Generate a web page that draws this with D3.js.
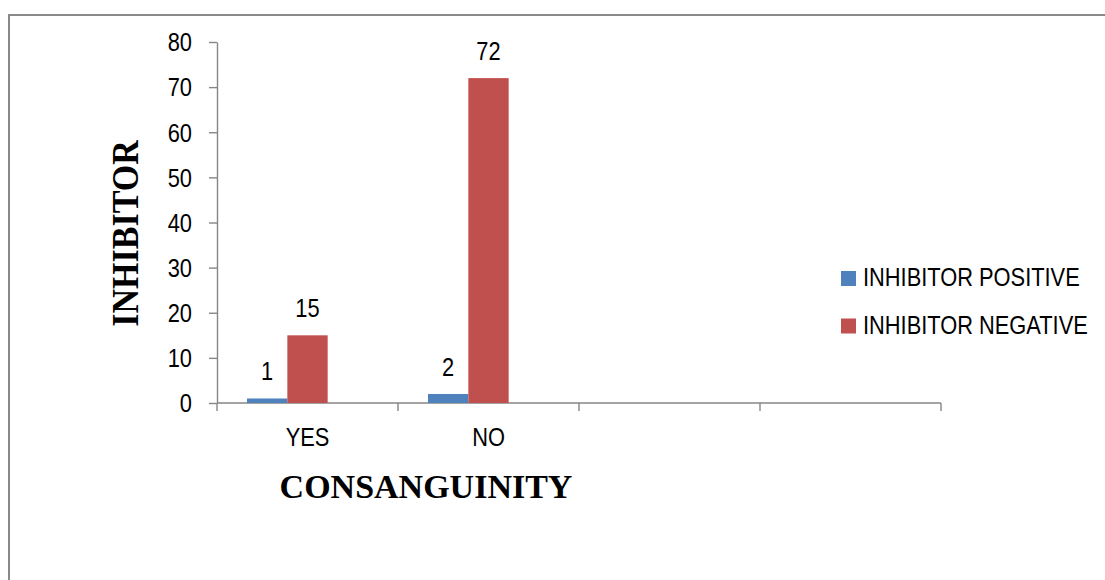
<!DOCTYPE html>
<html>
<head>
<meta charset="utf-8">
<script src="https://cdn.jsdelivr.net/npm/d3@7"></script>
<style>
  html, body { margin: 0; padding: 0; background: #fff; }
  svg { display: block; }
  .lbl { font-family: "Liberation Sans Narrow", "Arial Narrow", "Liberation Sans", Arial, sans-serif; font-size: 26px; fill: #000; }
  .title { font-family: "Liberation Serif", "Times New Roman", serif; font-weight: bold; font-size: 34px; fill: #000; }
</style>
</head>
<body>
<svg id="chart" width="1105" height="580"></svg>
<script>
// Category axis: four slots, only the first two carry data
const categories = ["YES", "NO", "", ""];
const seriesNames = ["INHIBITOR POSITIVE", "INHIBITOR NEGATIVE"];
const positiveValues = [1, 2];
const negativeValues = [15, 72];
const yTicks = [0, 10, 20, 30, 40, 50, 60, 70, 80];
const colors = ["#4F81BD", "#C0504D"];

const svg = d3.select("#chart");
const axisColor = "#868686";
const squeeze = 0.84; // horizontal condensing for the narrow label face

// Condensed label text anchored at (x, y)
function label(parent, x, y, txt, anchor) {
  return parent.append("text")
    .attr("class", "lbl")
    .attr("transform", `translate(${x},${y}) scale(${squeeze},1)`)
    .attr("text-anchor", anchor || "start")
    .text(txt);
}

// Outer chart frame
svg.append("rect")
  .attr("x", 9).attr("y", 15)
  .attr("width", 1200).attr("height", 700)
  .attr("fill", "none")
  .attr("stroke", "#898989")
  .attr("stroke-width", 2);

const y = d3.scaleLinear().domain([0, 80]).range([403, 42]);
const x = d3.scaleBand().domain(d3.range(categories.length)).range([217, 941]);
// Three bar slots per category (third slot stays empty)
const xSub = d3.scaleBand().domain(d3.range(3)).range([0, x.bandwidth()])
  .paddingInner(0).paddingOuter(0.744);

// Y axis
const yAxis = svg.append("g")
  .attr("transform", "translate(217,0)")
  .call(d3.axisLeft(y).tickValues(yTicks).tickSize(8).tickSizeOuter(0).tickFormat(""));
yAxis.select(".domain").attr("stroke", axisColor).attr("stroke-width", 1.4);
yAxis.selectAll(".tick line").attr("stroke", axisColor).attr("stroke-width", 1.4);
const yLabels = svg.append("g");
yTicks.forEach(t => label(yLabels, 192, y(t) + 9.3, t, "end"));

// X axis line and boundary ticks
svg.append("line")
  .attr("x1", x.range()[0]).attr("x2", x.range()[1])
  .attr("y1", y(0)).attr("y2", y(0))
  .attr("stroke", axisColor).attr("stroke-width", 1.4);
const bounds = d3.range(categories.length).map(i => x(i)).concat([x.range()[1]]);
svg.selectAll(".xtick").data(bounds).join("line")
  .attr("class", "xtick")
  .attr("x1", d => d).attr("x2", d => d)
  .attr("y1", y(0)).attr("y2", y(0) + 8)
  .attr("stroke", axisColor).attr("stroke-width", 1.4);
const xLabels = svg.append("g");
categories.forEach((c, i) => label(xLabels, x(i) + x.bandwidth() / 2, 446, c, "middle"));

// Bars with value labels
const series = [positiveValues, negativeValues];
series.forEach((vals, s) => {
  const g = svg.append("g");
  g.selectAll("rect").data(vals).join("rect")
    .attr("x", (d, i) => x(i) + xSub(s))
    .attr("width", xSub.bandwidth())
    .attr("y", d => y(d))
    .attr("height", d => y(0) - y(d))
    .attr("fill", colors[s]);
  vals.forEach((v, i) => label(g, x(i) + xSub(s) + xSub.bandwidth() / 2, y(v) - 18, v, "middle"));
});

// Legend
const legend = svg.append("g");
seriesNames.forEach((name, i) => {
  legend.append("rect")
    .attr("x", 841).attr("y", 271 + i * 47.5)
    .attr("width", 15).attr("height", 15)
    .attr("fill", colors[i]);
  label(legend, 863, 286 + i * 47.5, name, "start");
});

// Axis titles
svg.append("text")
  .attr("class", "title")
  .attr("x", 426).attr("y", 498)
  .attr("text-anchor", "middle")
  .text("CONSANGUINITY");
svg.append("text")
  .attr("class", "title")
  .attr("transform", "translate(138,233.5) rotate(-90) scale(1,1.1)")
  .attr("text-anchor", "middle")
  .text("INHIBITOR");
</script>
</body>
</html>
